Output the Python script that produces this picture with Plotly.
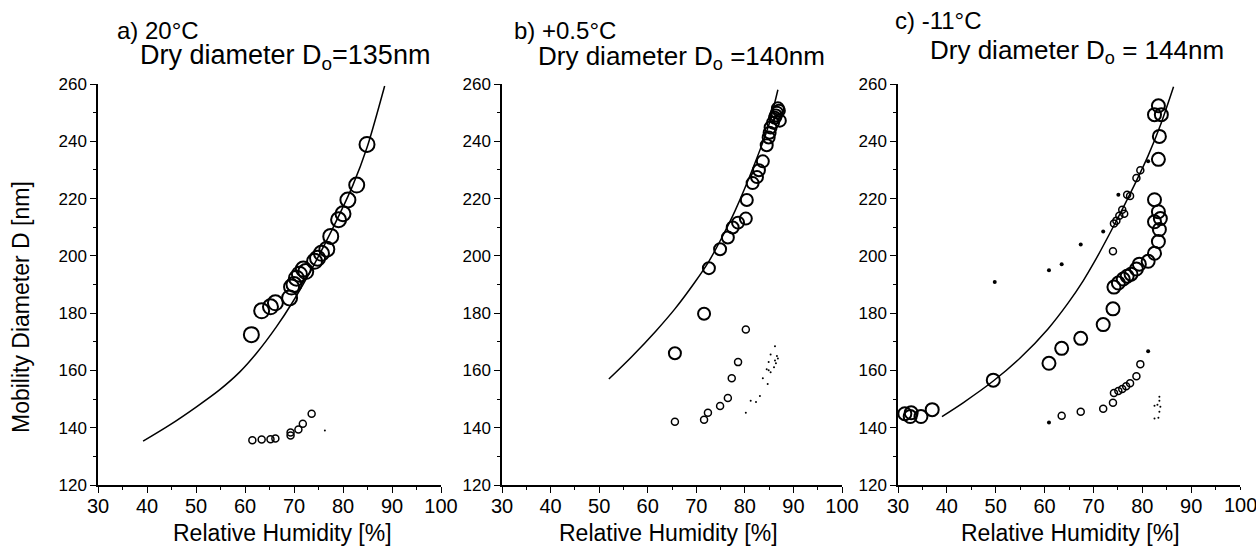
import plotly.graph_objects as go

W, H = 1256, 550

# ---- panel a) 20 C ----
a_big_x = [61.3, 63.4, 65.2, 66.2, 69.1, 69.5, 70.0, 70.5, 71.1, 71.9, 72.4, 74.2, 74.8, 75.6, 76.7, 77.5, 79.1, 80.0, 81.0, 82.8, 84.9]
a_big_y = [172.5, 180.8, 182.2, 183.6, 185.3, 189.1, 190.0, 192.2, 193.6, 195.4, 194.5, 198.1, 199.2, 200.9, 202.3, 206.8, 212.6, 214.7, 219.5, 224.7, 238.9]
a_small_x = [61.5, 63.4, 65.2, 66.2, 69.3, 69.3, 70.9, 71.8, 73.6]
a_small_y = [135.6, 135.9, 136.0, 136.2, 137.3, 138.3, 139.4, 141.4, 144.9]
a_dot_x = [76.3]
a_dot_y = [139.0]
a_curve_x = [39.2, 44.5, 50.1, 54.8, 58.9, 62.3, 66.4, 69.7, 73.8, 77.9, 82.0, 84.9, 88.5]
a_curve_y = [135.3, 140.8, 147.3, 153.2, 159.4, 165.9, 175.2, 183.8, 196.0, 209.6, 224.6, 237.8, 259.3]

# ---- panel b) +0.5 C ----
b_big_x = [65.6, 71.6, 72.6, 74.9, 76.5, 77.5, 78.6, 80.2, 80.4, 81.6, 82.5, 82.9, 83.7, 84.5, 84.9, 85.1, 85.3, 85.8, 86.2, 86.6, 87.0, 87.2, 86.8, 86.4]
b_big_y = [166.0, 179.8, 195.7, 202.3, 206.4, 209.9, 211.6, 213.0, 219.5, 225.4, 227.5, 229.9, 233.0, 238.6, 241.3, 243.0, 244.8, 246.5, 248.2, 250.0, 250.7, 247.2, 251.5, 249.0]
b_small_x = [65.6, 71.6, 72.4, 74.9, 76.5, 77.3, 78.6, 80.2]
b_small_y = [142.1, 142.8, 145.2, 147.6, 150.4, 157.3, 162.9, 174.3]
b_dot_x = [80.2, 81.2, 82.3, 83.1, 83.7, 84.7, 84.5, 84.9, 85.3, 86.2, 86.2, 86.0, 86.6, 86.8, 85.3, 84.9, 86.4]
b_dot_y = [145.2, 149.4, 149.0, 151.1, 157.3, 155.3, 160.4, 160.1, 159.4, 168.4, 163.5, 161.1, 165.0, 164.2, 165.6, 162.9, 162.5]
b_curve_x = [52.0, 56.7, 61.7, 65.6, 69.7, 72.6, 75.3, 78.0, 82.1, 84.9, 86.8]
b_curve_y = [157.0, 164.8, 173.8, 181.5, 190.8, 198.1, 206.5, 215.8, 232.5, 245.5, 258.0]

# ---- panel c) -11 C ----
c_big_x = [31.4, 32.5, 32.7, 34.7, 37.0, 49.5, 60.9, 63.5, 67.4, 72.0, 74.0, 74.2, 75.1, 76.1, 76.9, 77.7, 78.8, 79.4, 81.2, 82.5, 83.3, 83.5, 82.5, 83.7, 83.3, 82.5, 83.3, 83.5, 83.9, 82.5, 83.3]
c_big_y = [144.9, 143.9, 145.2, 143.9, 146.3, 156.6, 162.5, 167.7, 171.2, 176.0, 181.5, 189.1, 190.5, 191.9, 192.9, 193.6, 195.4, 197.1, 198.1, 200.9, 205.0, 209.2, 211.9, 213.0, 215.4, 219.6, 233.7, 241.7, 249.3, 249.3, 252.4]
c_small_x = [74.0, 74.2, 74.7, 75.3, 75.9, 76.3, 76.9, 77.5, 78.8, 79.6,
             63.5, 67.4, 72.0, 74.0, 74.2, 75.1, 75.9, 76.7, 77.5, 78.8, 79.6]
c_small_y = [201.6, 211.3, 212.3, 214.0, 216.1, 214.7, 221.3, 220.9, 227.2, 229.9,
             144.2, 145.6, 146.6, 148.7, 152.1, 152.8, 153.5, 154.5, 155.5, 158.0, 162.2]
c_fill_x = [49.8, 60.9, 63.5, 67.4, 72.0, 75.1, 81.2, 60.9, 81.2]
c_fill_y = [190.9, 195.0, 197.1, 204.0, 208.5, 221.3, 233.0, 141.8, 166.7]
c_dot_x = [83.5, 82.5, 83.1, 83.7, 83.5, 82.5, 83.3, 83.5]
c_dot_y = [150.8, 147.7, 148.0, 147.3, 145.6, 143.2, 143.5, 149.4]
c_curve_x = [39.0, 43.4, 49.5, 55.1, 60.7, 64.8, 67.9, 70.1, 74.2, 78.4, 81.2, 83.9, 86.4]
c_curve_y = [143.9, 148.8, 156.3, 164.5, 174.5, 183.5, 191.3, 197.6, 210.6, 224.8, 235.0, 246.5, 259.0]

x_ticks = [30, 40, 50, 60, 70, 80, 90, 100]
y_ticks = [120, 140, 160, 180, 200, 220, 240, 260]

panel_labels = ["a) 20°C", "b) +0.5°C", "c) -11°C"]
dry_labels = ["Dry diameter D<sub>o</sub>=135nm", "Dry diameter D<sub>o</sub> =140nm", "Dry diameter D<sub>o</sub> = 144nm"]
x_title = "Relative Humidity [%]"
y_title = "Mobility Diameter D [nm]"

FONT = "Liberation Sans, Arial, sans-serif"
fig = go.Figure()


def circles(x, y, size, width, xa, ya):
    fig.add_trace(go.Scatter(x=x, y=y, mode="markers", xaxis=xa, yaxis=ya,
                             marker=dict(symbol="circle-open", size=size, color="black",
                                         line=dict(width=width, color="black"))))


def dots(x, y, size, xa, ya):
    fig.add_trace(go.Scatter(x=x, y=y, mode="markers", xaxis=xa, yaxis=ya,
                             marker=dict(symbol="circle", size=size, color="black")))


def curve(x, y, xa, ya):
    fig.add_trace(go.Scatter(x=x, y=y, mode="lines", xaxis=xa, yaxis=ya,
                             line=dict(color="black", width=1.5, shape="spline", smoothing=0.8)))


curve(a_curve_x, a_curve_y, "x", "y")
circles(a_big_x, a_big_y, 15, 2, "x", "y")
circles(a_small_x, a_small_y, 7, 1.5, "x", "y")
dots(a_dot_x, a_dot_y, 2, "x", "y")

curve(b_curve_x, b_curve_y, "x2", "y2")
circles(b_big_x, b_big_y, 12, 2, "x2", "y2")
circles(b_small_x, b_small_y, 7, 1.5, "x2", "y2")
dots(b_dot_x, b_dot_y, 2, "x2", "y2")

curve(c_curve_x, c_curve_y, "x3", "y3")
circles(c_big_x, c_big_y, 13, 2, "x3", "y3")
circles(c_small_x, c_small_y, 7, 1.5, "x3", "y3")
dots(c_fill_x, c_fill_y, 4, "x3", "y3")
dots(c_dot_x, c_dot_y, 2, "x3", "y3")

# pixel extents of the three plot areas
x_px = [(98, 441), (502, 842), (898, 1240)]
y_top, y_bot = 84, 485
TICK_SIZE = 20

common_x = dict(range=[30, 100], showline=True, linecolor="black", linewidth=1.5,
                ticks="outside", ticklen=6, tickcolor="black", showgrid=False, zeroline=False,
                automargin=False, ticklabelstandoff=-4,
                tickfont=dict(family=FONT, size=TICK_SIZE, color="black"),
                minor=dict(dtick=5, ticks="outside", ticklen=3, tickcolor="black"))
common_y = dict(range=[120, 260], tickvals=y_ticks, showline=True, linecolor="black", linewidth=1.5,
                ticks="outside", ticklen=6, tickcolor="black", showgrid=False, zeroline=False,
                automargin=False, tickfont=dict(family=FONT, size=17, color="black"),
                minor=dict(dtick=10, ticks="outside", ticklen=3, tickcolor="black"))

layout = dict(width=W, height=H, margin=dict(l=0, r=0, t=0, b=0),
              plot_bgcolor="white", paper_bgcolor="white", showlegend=False)
for i, (x0, x1) in enumerate(x_px):
    s = "" if i == 0 else str(i + 1)
    # the last panel's "100" would hang past the page edge and be dropped by plotly,
    # so it is written as an annotation below
    tv = x_ticks if i < 2 else x_ticks[:-1]
    layout["xaxis" + s] = dict(common_x, tickvals=tv, domain=[x0 / W, x1 / W], anchor="y" + s)
    layout["yaxis" + s] = dict(common_y, domain=[1 - y_bot / H, 1 - y_top / H], anchor="x" + s)
fig.update_layout(**layout)


def note(text, px, py, size, xanchor="left", angle=0):
    fig.add_annotation(text=text, x=px / W, y=1 - py / H, xref="paper", yref="paper",
                       xanchor=xanchor, yanchor="middle", showarrow=False, textangle=angle,
                       font=dict(family=FONT, size=size, color="black"))


label_pos = [(115, 30), (512, 30), (893, 20)]
dry_pos = [(138, 57), (536, 57), (928, 51)]
xtitle_pos = [282, 668, 1070]
for i in range(3):
    note(panel_labels[i], label_pos[i][0], label_pos[i][1], 24)
    note(dry_labels[i], dry_pos[i][0], dry_pos[i][1], 27 if i == 0 else 26)
    note(x_title, xtitle_pos[i], 533, 23, xanchor="center")
note(y_title, 21, 307, 23, xanchor="center", angle=-90)

fig.add_annotation(text=str(x_ticks[-1]), x=x_ticks[-1], xref="x3", y=1 - 505 / H, yref="paper",
                   xanchor="center", yanchor="middle", showarrow=False,
                   font=dict(family=FONT, size=TICK_SIZE, color="black"))

# drop the page's default body margin so the figure sits at the window's corner
fig.write_html("out.html", config={"displayModeBar": False},
               post_script="document.body.style.margin='0px';")
